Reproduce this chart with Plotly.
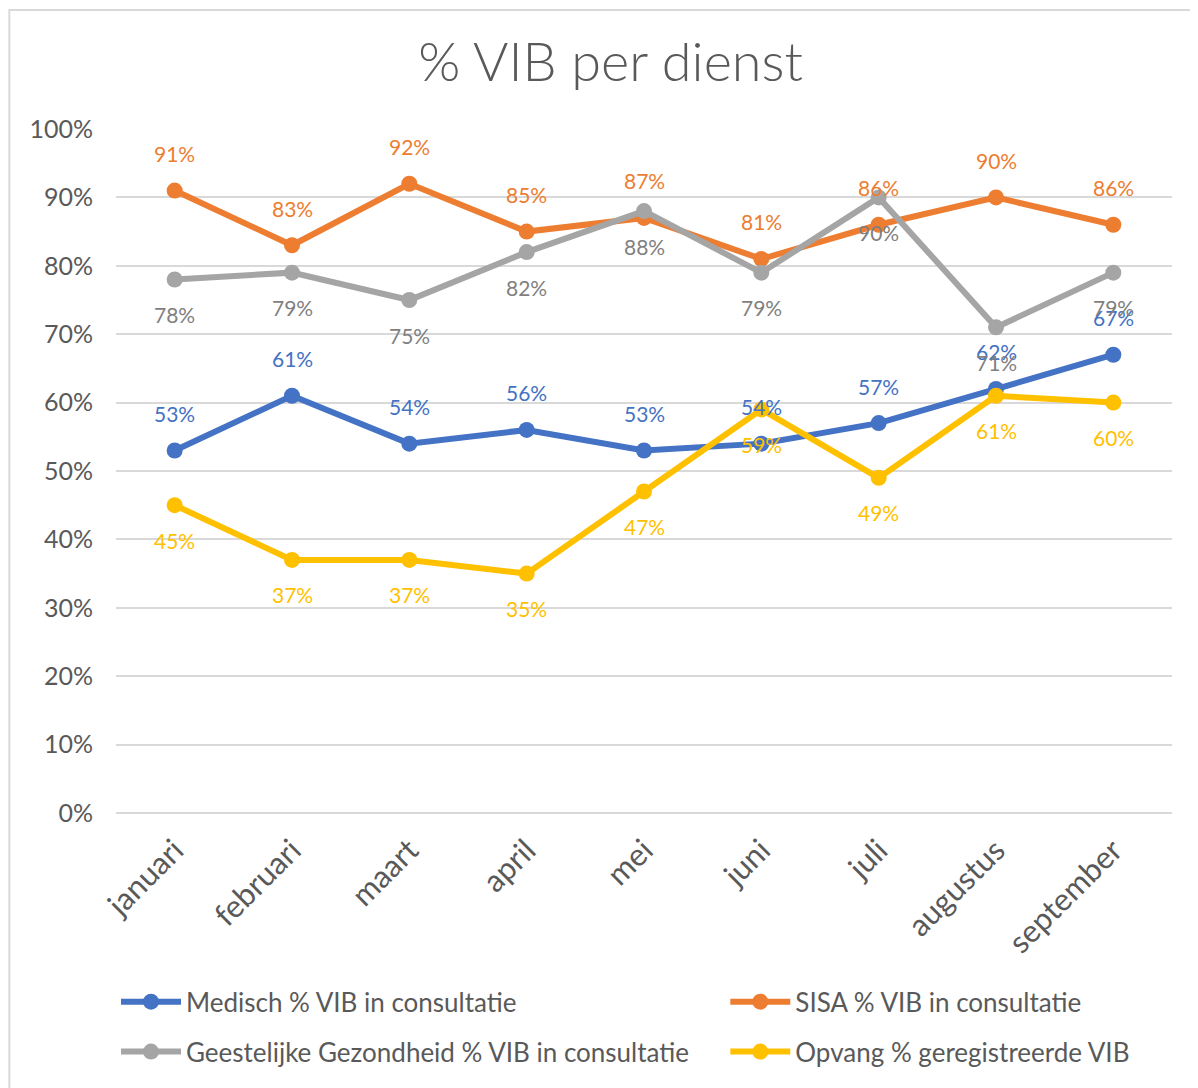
import plotly.graph_objects as go

months = ["januari", "februari", "maart", "april", "mei", "juni", "juli", "augustus", "september"]

medisch = [53, 61, 54, 56, 53, 54, 57, 62, 67]
sisa = [91, 83, 92, 85, 87, 81, 86, 90, 86]
geestelijke = [78, 79, 75, 82, 88, 79, 90, 71, 79]
opvang = [45, 37, 37, 35, 47, 59, 49, 61, 60]

FONT = "Lato, 'Open Sans', sans-serif"
TXT = "#595959"

series = [
    # name, values, line colour, label colour, label shift, legend
    ("Medisch % VIB in consultatie", medisch, "#4472C4", "#4472C4", 37, "legend"),
    ("SISA % VIB in consultatie", sisa, "#ED7D31", "#ED7D31", 37, "legend2"),
    ("Geestelijke Gezondheid % VIB in consultatie", geestelijke, "#A5A5A5", "#7F7F7F", -35, "legend3"),
    ("Opvang % geregistreerde VIB", opvang, "#FFC000", "#FFC000", -35, "legend4"),
]

fig = go.Figure()
annotations = []
for name, vals, color, lblcolor, shift, leg in series:
    fig.add_trace(go.Scatter(
        x=months, y=vals, name=name, mode="lines+markers",
        line=dict(color=color, width=6),
        marker=dict(color=color, size=16),
        legend=leg, showlegend=True,
    ))
    for m, v in zip(months, vals):
        annotations.append(dict(
            x=m, y=v, text=f"{v}%", showarrow=False, yshift=shift,
            font=dict(family=FONT, size=21, color=lblcolor),
        ))


def leg(x, y):
    return dict(
        orientation="h", x=x, xanchor="left", y=y, yanchor="middle",
        font=dict(family=FONT, size=26, color=TXT),
        bgcolor="rgba(0,0,0,0)", itemwidth=60,
    )


fig.update_layout(
    width=1198, height=1088,
    margin=dict(l=108, r=34, t=121, b=283),
    paper_bgcolor="white", plot_bgcolor="white",
    showlegend=True,
    title=dict(text="% VIB per dienst", x=0.503, xanchor="center", y=0.950, yanchor="middle",
               font=dict(family=FONT, size=54, color=TXT, weight=300)),
    xaxis=dict(
        type="category", range=[-0.5, 8.5], tickangle=-45,
        tickfont=dict(family=FONT, size=31, color=TXT),
        showgrid=False, showline=False, ticks="", zeroline=False,
        ticklabelstandoff=12,
    ),
    yaxis=dict(
        range=[0, 100], dtick=10, ticksuffix="%",
        tickfont=dict(family=FONT, size=25, color=TXT),
        showgrid=True, gridcolor="#D9D9D9", gridwidth=2,
        zeroline=True, zerolinecolor="#D9D9D9", zerolinewidth=2,
        ticks="", ticklabelstandoff=22,
    ),
    legend=leg(0.0, -0.276),
    legend2=leg(0.577, -0.276),
    legend3=leg(0.0, -0.349),
    legend4=leg(0.577, -0.349),
    annotations=annotations,
    shapes=[dict(type="rect", xref="paper", yref="paper",
                 x0=-0.101, x1=1.2, y0=-0.5, y1=1.174,
                 line=dict(color="#D9D9D9", width=2), layer="below")],
)

fig.write_html("out.html")
